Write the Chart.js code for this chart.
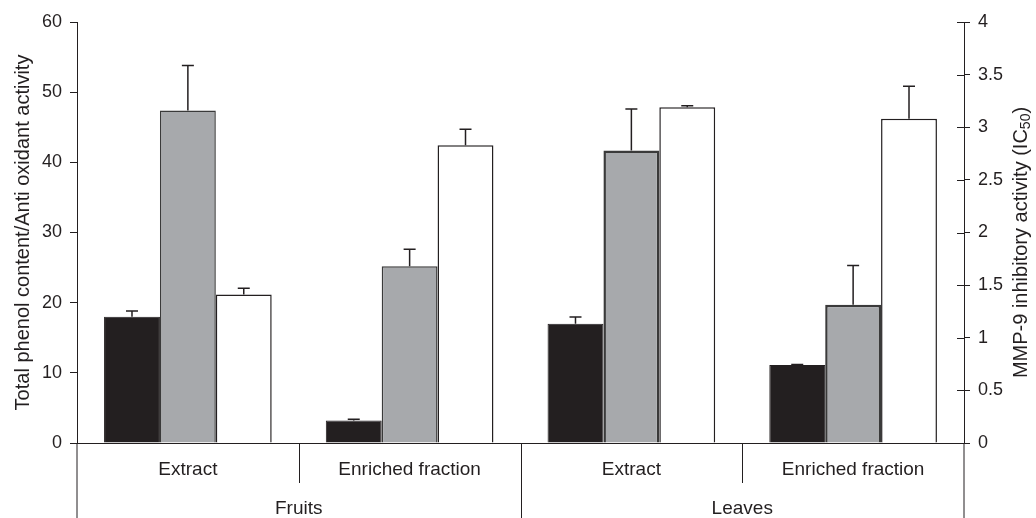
<!DOCTYPE html>
<html>
<head>
<meta charset="utf-8">
<script src="https://cdn.jsdelivr.net/npm/chart.js@4"></script>
<style>
  body { margin: 0; background: #fff; }
  #wrap { width: 1036px; height: 518px; }
</style>
</head>
<body>
<div id="wrap"><canvas id="myChart" width="1036" height="518"></canvas></div>
<script>
// categories (inner level / outer level)
const categories = ['Extract', 'Enriched fraction', 'Extract', 'Enriched fraction'];
const groups = ['Fruits', 'Leaves'];

// black bars - left axis
const phenol = [18.0, 3.2, 17.0, 11.1];
const phenolErr = [0.8, 0.2, 0.95, 0.1];
// grey bars - left axis
const antiox = [47.4, 25.2, 41.7, 19.7];
const antioxErr = [6.4, 2.4, 5.9, 5.6];
// white bars - right axis (MMP-9 IC50)
const mmp9 = [1.41, 2.83, 3.19, 3.08];
const mmp9Err = [0.06, 0.15, 0.015, 0.31];

const leftTicks = [0, 10, 20, 30, 40, 50, 60];
const rightTicks = [0, 0.5, 1, 1.5, 2, 2.5, 3, 3.5, 4];

const INK = '#231f20';
Chart.defaults.font.family = '"Liberation Sans", Arial, sans-serif';
Chart.defaults.color = INK;

// error bars, separators, axis extensions, right title
const extras = {
    id: 'extras',
    afterDatasetsDraw(chart) {
        const ctx = chart.ctx;
        ctx.save();
        ctx.strokeStyle = INK;
        ctx.lineWidth = 1.5;
        chart.data.datasets.forEach((ds, i) => {
            const meta = chart.getDatasetMeta(i);
            const scale = chart.scales[ds.yAxisID];
            meta.data.forEach((bar, j) => {
                const top = scale.getPixelForValue(ds.data[j] + ds.errors[j]);
                ctx.beginPath();
                ctx.moveTo(bar.x, bar.y);
                ctx.lineTo(bar.x, top);
                ctx.moveTo(bar.x - 6, top);
                ctx.lineTo(bar.x + 6, top);
                ctx.stroke();
            });
        });
        ctx.restore();
    },
    afterDraw(chart) {
        const ctx = chart.ctx;
        const area = chart.chartArea;
        const x = chart.scales.x;
        const y1 = chart.scales.y1;
        ctx.save();
        ctx.strokeStyle = INK;
        ctx.lineWidth = 1;
        ctx.beginPath();
        // axis lines run down to the bottom
        ctx.moveTo(area.left, area.bottom);
        ctx.lineTo(area.left, chart.height);
        ctx.moveTo(area.right, area.bottom);
        ctx.lineTo(area.right, chart.height);
        // separators between categories
        for (let i = 1; i < categories.length; i++) {
            const px = Math.round((x.getPixelForValue(i - 1) + x.getPixelForValue(i)) / 2) + 0.5;
            ctx.moveTo(px, area.bottom);
            ctx.lineTo(px, i == 2 ? chart.height : x.bottom);
        }
        // right ticks cross the axis
        y1.ticks.forEach(t => {
            const py = Math.round(y1.getPixelForValue(t.value)) + 0.5;
            ctx.moveTo(area.right - 7, py);
            ctx.lineTo(area.right, py);
        });
        ctx.stroke();

        // right title, reads bottom to top, with subscript
        const main = 'MMP-9 inhibitory activity (IC';
        const big = '20px "Liberation Sans", Arial, sans-serif';
        const small = '14px "Liberation Sans", Arial, sans-serif';
        ctx.font = big;
        const w1 = ctx.measureText(main).width;
        const w3 = ctx.measureText(')').width;
        ctx.font = small;
        const w2 = ctx.measureText('50').width;
        const total = w1 + w2 + w3;
        ctx.translate(1021, (area.top + area.bottom) / 2 + 10);
        ctx.rotate(-Math.PI / 2);
        ctx.fillStyle = INK;
        ctx.textBaseline = 'middle';
        ctx.textAlign = 'left';
        let cx = -total / 2;
        ctx.font = big;
        ctx.fillText(main, cx, 0);
        cx += w1;
        ctx.font = small;
        ctx.fillText('50', cx, 5);
        cx += w2;
        ctx.font = big;
        ctx.fillText(')', cx, 0);
        ctx.restore();
    }
};

const barCommon = {
    barPercentage: 1.0,
    categoryPercentage: 0.756,
    borderSkipped: 'start'
};

new Chart(document.getElementById('myChart'), {
    type: 'bar',
    data: {
        labels: categories,
        datasets: [
            Object.assign({
                label: 'Total phenol content',
                data: phenol,
                errors: phenolErr,
                yAxisID: 'y',
                backgroundColor: INK,
                borderColor: INK,
                borderWidth: 1
            }, barCommon),
            Object.assign({
                label: 'Anti oxidant activity',
                data: antiox,
                errors: antioxErr,
                yAxisID: 'y',
                backgroundColor: '#a7a9ac',
                borderColor: '#3a3a3a',
                borderWidth: [1.5, 1.5, 2.5, 2.5]
            }, barCommon),
            Object.assign({
                label: 'MMP-9 inhibitory activity (IC50)',
                data: mmp9,
                errors: mmp9Err,
                yAxisID: 'y1',
                backgroundColor: '#ffffff',
                borderColor: INK,
                borderWidth: 1.5
            }, barCommon)
        ]
    },
    options: {
        responsive: false,
        animation: false,
        layout: { padding: { top: 22, left: 0, right: 0, bottom: 0 } },
        plugins: {
            legend: { display: false },
            tooltip: { enabled: false }
        },
        scales: {
            x: {
                type: 'category',
                position: 'bottom',
                weight: 0,
                grid: { display: false, drawTicks: false },
                border: { display: true, color: INK, width: 1 },
                ticks: { padding: 15, maxRotation: 0, autoSkip: false, font: { size: 19 } },
                afterFit(scale) { scale.height = 40; }
            },
            x2: {
                type: 'category',
                labels: groups,
                position: 'bottom',
                weight: 1,
                offset: true,
                grid: { display: false, drawTicks: false },
                border: { display: false },
                ticks: { padding: 14, maxRotation: 0, font: { size: 19 } },
                afterFit(scale) { scale.height = 35; }
            },
            y: {
                position: 'left',
                min: 0,
                max: 60,
                afterBuildTicks(scale) { scale.ticks = leftTicks.map(v => ({ value: v })); },
                grid: { drawOnChartArea: false, drawTicks: true, tickLength: 7, color: INK },
                border: { display: true, color: INK, width: 1 },
                ticks: { padding: 8, font: { size: 18 } },
                title: {
                    display: true,
                    text: 'Total phenol content/Anti oxidant activity',
                    font: { size: 20 },
                    padding: { top: 11, bottom: 0 }
                },
                afterFit(scale) { scale.width = 77; }
            },
            y1: {
                position: 'right',
                min: 0,
                max: 4,
                afterBuildTicks(scale) { scale.ticks = rightTicks.map(v => ({ value: v })); },
                grid: { drawOnChartArea: false, drawTicks: true, tickLength: 6, color: INK },
                border: { display: true, color: INK, width: 1 },
                ticks: { padding: 8, font: { size: 18 }, callback: v => String(v) },
                afterFit(scale) { scale.width = 72; }
            }
        }
    },
    plugins: [extras]
});
</script>
</body>
</html>
